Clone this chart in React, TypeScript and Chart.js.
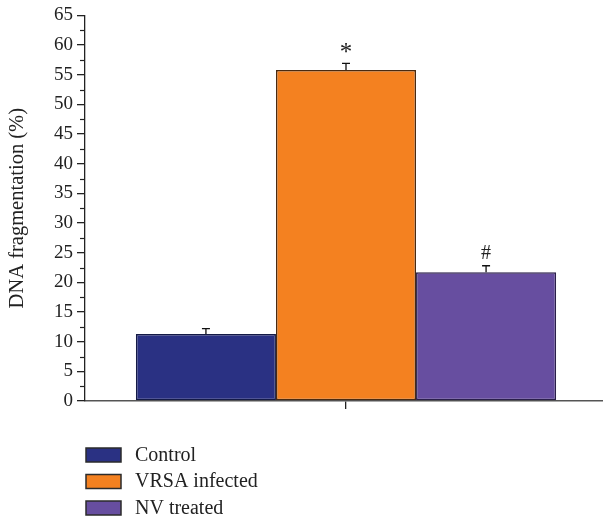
import React, { useEffect, useRef } from 'react';
import { Chart, registerables } from 'chart.js';

Chart.register(...registerables);

const categories = [''];
const seriesNames = ['Control', 'VRSA infected', 'NV treated'];
const seriesValues = [11.3, 55.8, 21.7];
const seriesErrors = [0.9, 1.1, 1.1];
const seriesMarks = ['', '*', '#'];
const seriesColors = ['#2a3183', '#f48120', '#674ea0'];
const seriesBorders = ['#141a46', '#4a2a10', '#2a1f4a'];
const yTickValues = [0, 5, 10, 15, 20, 25, 30, 35, 40, 45, 50, 55, 60, 65];
const yTitle = 'DNA fragmentation (%)';

const FONT = '"Liberation Serif", "Times New Roman", serif';

const overlay = {
  id: 'overlay',
  afterDatasetsDraw(chart: any) {
    const ctx = chart.ctx;
    const y = chart.scales.y;
    ctx.save();
    chart.data.datasets.forEach((ds: any, i: number) => {
      const meta = chart.getDatasetMeta(i);
      meta.data.forEach((bar: any, j: number) => {
        const v = ds.data[j];
        const e = seriesErrors[i];
        const x = bar.x;
        const top = y.getPixelForValue(v);
        const et = y.getPixelForValue(v + e);
        ctx.strokeStyle = '#111';
        ctx.lineWidth = 1.3;
        ctx.beginPath();
        ctx.moveTo(x, top);
        ctx.lineTo(x, et);
        ctx.moveTo(x - 4, et);
        ctx.lineTo(x + 4, et);
        ctx.stroke();
        if (seriesMarks[i]) {
          const star = seriesMarks[i] === '*';
          ctx.font = `${star ? 25 : 20}px ${FONT}`;
          ctx.textAlign = 'center';
          ctx.textBaseline = 'alphabetic';
          ctx.fillStyle = '#222';
          ctx.fillText(seriesMarks[i], x, et - (star ? 3 : 7));
        }
      });
    });
    // minor ticks
    const ax = chart.chartArea.left;
    ctx.strokeStyle = '#222';
    ctx.lineWidth = 1.2;
    for (let k = 0; k < yTickValues.length - 1; k++) {
      const mv = (yTickValues[k] + yTickValues[k + 1]) / 2;
      const py = Math.round(y.getPixelForValue(mv)) + 0.5;
      ctx.beginPath();
      ctx.moveTo(ax - 5, py);
      ctx.lineTo(ax, py);
      ctx.stroke();
    }
    ctx.restore();
  },
  afterDraw(chart: any) {
    const ctx = chart.ctx;
    ctx.save();
    const bx = 86;
    const y0 = 448;
    const pitch = 26.5;
    chart.data.datasets.forEach((ds: any, i: number) => {
      const by = y0 + i * pitch;
      ctx.fillStyle = seriesColors[i];
      ctx.fillRect(bx, by, 35, 14);
      ctx.strokeStyle = '#2b2b2b';
      ctx.lineWidth = 1.5;
      ctx.strokeRect(bx, by, 35, 14);
      ctx.font = `20px ${FONT}`;
      ctx.fillStyle = '#222';
      ctx.textAlign = 'left';
      ctx.textBaseline = 'middle';
      ctx.fillText(ds.label, 135, by + 7.5);
    });
    ctx.restore();
  },
};

export default function App() {
  const ref = useRef<HTMLCanvasElement | null>(null);
  useEffect(() => {
    document.body.style.margin = '0';
    document.body.style.overflow = 'hidden';
    if (!ref.current) return;
    const chart = new Chart(ref.current, {
      type: 'bar',
      data: {
        labels: categories,
        datasets: seriesNames.map((name, i) => ({
          label: name,
          data: [seriesValues[i]],
          backgroundColor: seriesColors[i],
          borderColor: seriesBorders[i],
          borderWidth: 1.5,
          borderSkipped: false,
          barPercentage: 1,
          categoryPercentage: 0.805,
        })),
      },
      options: {
        animation: false,
        responsive: false,
        devicePixelRatio: 1,
        layout: { padding: { top: 14, right: 0, left: 0, bottom: 0 } },
        plugins: {
          legend: { display: false },
          tooltip: { enabled: false },
        },
        scales: {
          x: {
            grid: {
              display: true,
              drawOnChartArea: false,
              drawTicks: true,
              tickLength: 8,
              offset: false,
              color: '#222',
              lineWidth: 1.3,
            },
            border: { display: true, color: '#555', width: 1.5 },
            ticks: { display: true, padding: 0, font: { family: FONT, size: 19 } },
            afterFit: (s: any) => {
              s.height = 119;
            },
          },
          y: {
            min: 0,
            max: 65,
            afterBuildTicks: (s: any) => {
              s.ticks = yTickValues.map((v) => ({ value: v }));
            },
            ticks: {
              font: { family: FONT, size: 19 },
              color: '#222',
              padding: 4,
            },
            grid: {
              drawOnChartArea: false,
              drawTicks: true,
              tickLength: 8,
              color: '#222',
              lineWidth: 1.3,
            },
            border: { display: true, color: '#222', width: 1.3 },
            title: {
              display: true,
              text: yTitle,
              font: { family: FONT, size: 20.5 },
              color: '#222',
              padding: { top: 5, bottom: 0 },
            },
            afterFit: (s: any) => {
              s.width = 85;
            },
          },
        },
      },
      plugins: [overlay],
    });
    return () => chart.destroy();
  }, []);
  return (
    <div style={{ width: 603, height: 520, overflow: 'hidden' }}>
      <canvas ref={ref} width={607} height={520} style={{ display: 'block' }} />
    </div>
  );
}
